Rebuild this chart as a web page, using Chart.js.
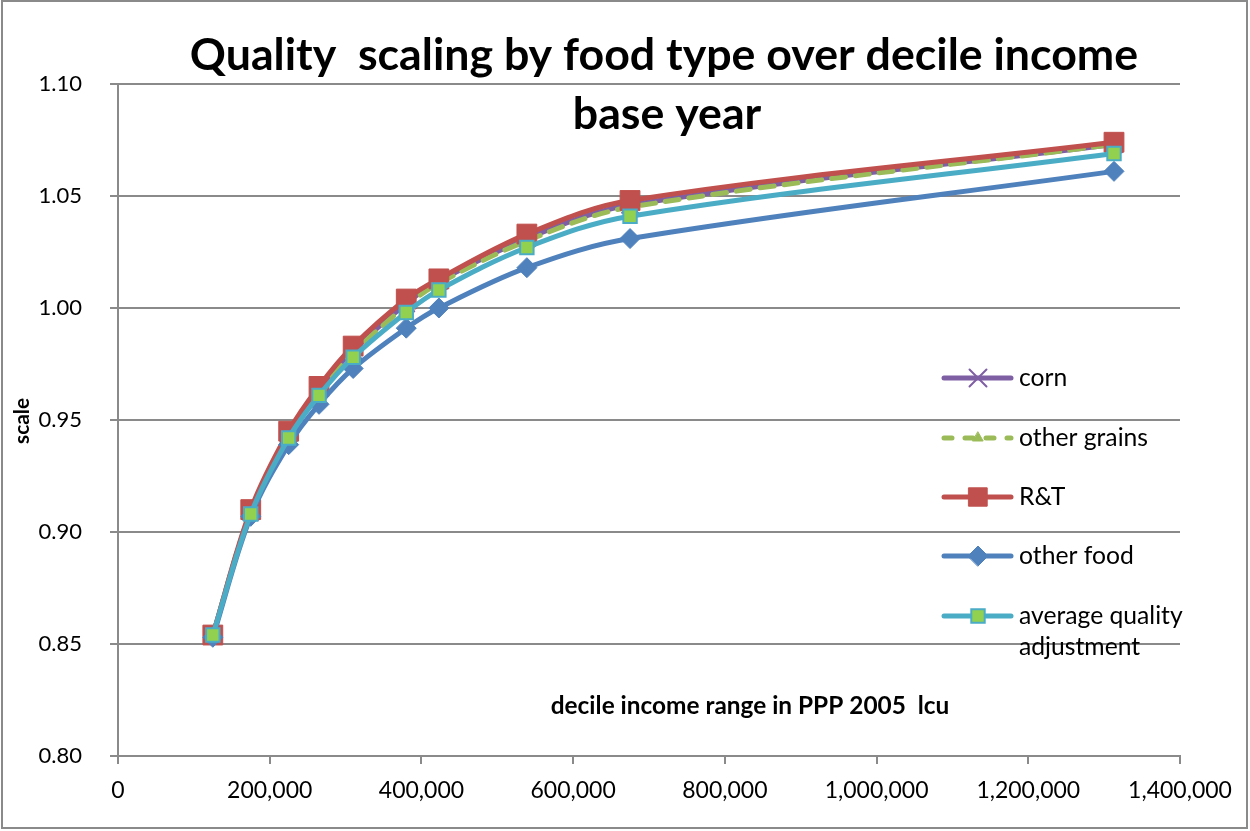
<!DOCTYPE html>
<html>
<head>
<meta charset="utf-8">
<script src="https://cdn.jsdelivr.net/npm/chart.js@4.4.1/dist/chart.umd.min.js"></script>
<style>
    html, body { margin: 0; padding: 0; background: #fff; }
    #wrap { width: 1250px; height: 831px; }
</style>
</head>
<body>
<div id="wrap"><canvas id="qualityChart" width="1250" height="831"></canvas></div>
<script>
// Decile income (PPP 2005 lcu) and quality scale per food type
const incomeDeciles = [125000, 175000, 225000, 265000, 310000, 380000, 423000, 539000, 675000, 1313000];
const cornScale = [0.854, 0.909, 0.944, 0.964, 0.981, 1.002, 1.012, 1.031, 1.046, 1.073];
const otherGrainsScale = [0.854, 0.909, 0.943, 0.963, 0.980, 1.001, 1.011, 1.030, 1.045, 1.073];
const rtScale = [0.854, 0.910, 0.945, 0.965, 0.983, 1.004, 1.013, 1.033, 1.048, 1.074];
const otherFoodScale = [0.853, 0.907, 0.939, 0.957, 0.973, 0.991, 1.000, 1.018, 1.031, 1.061];
const averageScale = [0.854, 0.908, 0.942, 0.961, 0.978, 0.998, 1.008, 1.027, 1.041, 1.069];

const seriesNames = ['corn', 'other grains', 'R&T', 'other food', 'average quality adjustment'];
const xTicks = [0, 200000, 400000, 600000, 800000, 1000000, 1200000, 1400000];
const yTicks = [0.80, 0.85, 0.90, 0.95, 1.00, 1.05, 1.10];

const titleLines = ['Quality  scaling by food type over decile income', 'base year'];
const xAxisTitle = 'decile income range in PPP 2005  lcu';
const yAxisTitle = 'scale';

const GRID = '#8a8a8a';
const FONT = 'Lato';

function toPoints(values) {
    return values.map((v, i) => ({ x: incomeDeciles[i], y: v }));
}

const seriesStyles = [
    { color: '#7E5FA4', fill: '#7E5FA4', style: 'crossRot', radius: 12, border: 2, dash: [], order: 5 },
    { color: '#9BBB59', fill: '#9BBB59', style: 'triangle', radius: 6, border: 1, dash: [14, 10], order: 4 },
    { color: '#C0504D', fill: '#C0504D', style: 'rect', radius: 14, border: 1, dash: [], order: 3 },
    { color: '#4F81BD', fill: '#4F81BD', style: 'rectRot', radius: 10, border: 1, dash: [], order: 2 },
    { color: '#4BACC6', fill: '#92D050', style: 'rect', radius: 9.5, border: 2, dash: [], order: 1 }
];

const seriesValues = [cornScale, otherGrainsScale, rtScale, otherFoodScale, averageScale];

const datasets = seriesValues.map((values, i) => {
    const s = seriesStyles[i];
    return {
        label: seriesNames[i],
        data: toPoints(values),
        borderColor: s.color,
        backgroundColor: s.fill,
        pointBackgroundColor: s.fill,
        pointBorderColor: s.color,
        pointBorderWidth: s.border,
        pointStyle: s.style,
        pointRadius: s.radius,
        borderWidth: 5,
        borderDash: s.dash,
        borderCapStyle: 'round',
        tension: 0.35,
        showLine: true,
        order: s.order
    };
});

// pick a font size so that text spans the given width
function fitFont(ctx, text, width, weight) {
    ctx.font = weight + ' 100px ' + FONT;
    const size = 100 * width / ctx.measureText(text).width;
    ctx.font = weight + ' ' + size.toFixed(1) + 'px ' + FONT;
}

/**
 * Draws title, axis titles, legend and outer frame
 */
const decorations = {
    id: 'decorations',
    afterDraw(chart) {
        const ctx = chart.ctx;
        ctx.save();

        // outer frame
        ctx.strokeStyle = GRID;
        ctx.lineWidth = 2;
        ctx.strokeRect(2, 1, 1245, 827);

        // title
        ctx.fillStyle = '#000';
        ctx.textAlign = 'center';
        ctx.textBaseline = 'alphabetic';
        fitFont(ctx, titleLines[0], 948, 'bold');
        ctx.fillText(titleLines[0], 664, 70);
        ctx.fillText(titleLines[1], 667, 129);

        // x axis title
        fitFont(ctx, xAxisTitle, 399, 'bold');
        ctx.textBaseline = 'middle';
        ctx.fillText(xAxisTitle, 750, 706);

        // y axis title
        ctx.save();
        ctx.translate(22, 421);
        ctx.rotate(-Math.PI / 2);
        fitFont(ctx, yAxisTitle, 46, 'bold');
        ctx.fillText(yAxisTitle, 0, 0);
        ctx.restore();

        // legend
        const legendY = [378, 438, 497, 556, 616];
        ctx.textAlign = 'left';
        fitFont(ctx, 'other grains', 129, 'normal');
        seriesNames.forEach((name, i) => {
            const s = seriesStyles[i];
            const y = legendY[i];
            ctx.strokeStyle = s.color;
            ctx.lineWidth = 5;
            ctx.lineCap = 'round';
            ctx.setLineDash(s.dash.length ? [8, 13] : []);
            ctx.beginPath();
            ctx.moveTo(944, y);
            ctx.lineTo(1011, y);
            ctx.stroke();
            ctx.setLineDash([]);

            const r = Math.min(s.radius, s.style === 'rect' && i === 2 ? 13 : s.radius);
            ctx.fillStyle = s.fill;
            ctx.strokeStyle = s.color;
            ctx.lineWidth = s.border;
            Chart.helpers.drawPoint(ctx, {
                pointStyle: s.style,
                radius: r,
                rotation: 0,
                borderWidth: s.border
            }, 978, y);

            ctx.fillStyle = '#000';
            if (i === 4) {
                ctx.fillText('average quality', 1019, y);
                ctx.fillText('adjustment', 1019, y + 31);
            } else {
                ctx.fillText(name, 1019, y);
            }
        });

        ctx.restore();
    }
};

new Chart(document.getElementById('qualityChart').getContext('2d'), {
    type: 'scatter',
    data: { datasets: datasets },
    options: {
        responsive: false,
        animation: false,
        devicePixelRatio: 1,
        layout: { padding: { top: 84, right: 70, left: 0, bottom: 0 } },
        scales: {
            x: {
                type: 'linear',
                min: 0,
                max: 1400000,
                afterBuildTicks: scale => { scale.ticks = xTicks.map(v => ({ value: v })); },
                afterFit: scale => { scale.height = 75; },
                grid: { drawOnChartArea: false, drawTicks: true, tickLength: 8, color: GRID, lineWidth: 2 },
                border: { color: GRID, width: 2 },
                ticks: {
                    color: '#000',
                    padding: 13,
                    maxRotation: 0,
                    font: { family: FONT, size: 23 },
                    callback: v => v.toLocaleString('en-US')
                }
            },
            y: {
                min: 0.80,
                max: 1.10,
                afterBuildTicks: scale => { scale.ticks = yTicks.map(v => ({ value: v })); },
                afterFit: scale => { scale.width = 118; },
                grid: { drawTicks: true, tickLength: 8, color: GRID, lineWidth: 2 },
                border: { color: GRID, width: 2 },
                ticks: {
                    color: '#000',
                    padding: 28,
                    font: { family: FONT, size: 22 },
                    callback: v => v.toFixed(2)
                }
            }
        },
        plugins: {
            legend: { display: false },
            title: { display: false },
            tooltip: { enabled: false }
        }
    },
    plugins: [decorations]
});
</script>
</body>
</html>
